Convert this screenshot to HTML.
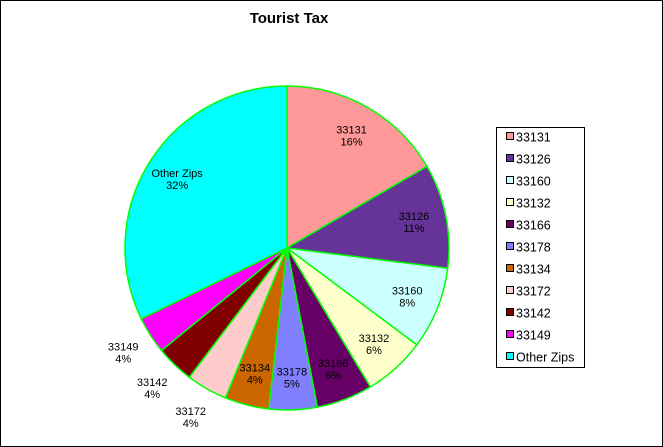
<!DOCTYPE html>
<html><head><meta charset="utf-8"><style>
html,body{margin:0;padding:0;background:#fff}
svg{display:block;font-family:"Liberation Sans",Arial,sans-serif}
</style></head><body>
<svg id="c" width="663" height="447">
<rect x="0.5" y="0.5" width="662" height="446" fill="#fff" stroke="#000"/>
<text x="289" y="23" text-anchor="middle" font-size="15" font-weight="bold">Tourist Tax</text>
<g id="pie"></g>
<g id="lab"></g>
<rect x="496.5" y="127.5" width="88" height="240" fill="#fff" stroke="#000"/>
<g id="leg"></g>
</svg>
<script>
const categories=["33131","33126","33160","33132","33166","33178","33134","33172","33142","33149","Other Zips"];
const values=[16.6,10.4,8.2,6.2,5.6,4.8,4.4,4.1,3.8,3.7,32.2];
const pctLabels=["16%","11%","8%","6%","6%","5%","4%","4%","4%","4%","32%"];
const colors=["#ff9999","#663399","#ccffff","#ffffcc","#660066","#8080ff","#cc6600","#ffcccc","#800000","#ff00ff","#00ffff"];
const outside=[0,0,0,0,0,0,0,1,1,1,0];
const NS="http://www.w3.org/2000/svg";
const cx=287,cy=248,r=162;
const total=values.reduce((a,b)=>a+b,0);
function pt(a,rr){return [cx+rr*Math.sin(a),cy-rr*Math.cos(a)];}
const pie=document.getElementById('pie'),lab=document.getElementById('lab'),leg=document.getElementById('leg');
let acc=0;
values.forEach((v,i)=>{
  const a0=acc/total*2*Math.PI; acc+=v; const a1=acc/total*2*Math.PI;
  const p0=pt(a0,r),p1=pt(a1,r);
  const large=(a1-a0)>Math.PI?1:0;
  const p=document.createElementNS(NS,'path');
  p.setAttribute('d',`M${cx},${cy}L${p0[0]},${p0[1]}A${r},${r} 0 ${large} 1 ${p1[0]},${p1[1]}Z`);
  p.setAttribute('fill',colors[i]);p.setAttribute('stroke','#00ff00');p.setAttribute('stroke-width','1.5');
  
  
  pie.appendChild(p);
  const am=(a0+a1)/2;
  const lp=pt(am,outside[i]?r*1.2:r*0.8);
  const t=document.createElementNS(NS,'text');
  t.setAttribute('x',lp[0]);t.setAttribute('y',lp[1]-2);t.setAttribute('text-anchor','middle');t.setAttribute('font-size','11');
  
  
  t.innerHTML=`<tspan x="${lp[0]}">${categories[i]}</tspan><tspan x="${lp[0]}" dy="12">${pctLabels[i]}</tspan>`;
  lab.appendChild(t);
  const y=137+i*22;
  const s=document.createElementNS(NS,'rect');
  s.setAttribute('x',506.5);s.setAttribute('y',y-4.5);s.setAttribute('width',7);s.setAttribute('height',7);
  s.setAttribute('fill',colors[i]);s.setAttribute('stroke','#000');
  
  
  leg.appendChild(s);
  const lt=document.createElementNS(NS,'text');
  lt.setAttribute('x',516);lt.setAttribute('y',y+4.5);lt.setAttribute('font-size','12.5');
  
  
  lt.textContent=categories[i];
  leg.appendChild(lt);
});
</script>
</body></html>
